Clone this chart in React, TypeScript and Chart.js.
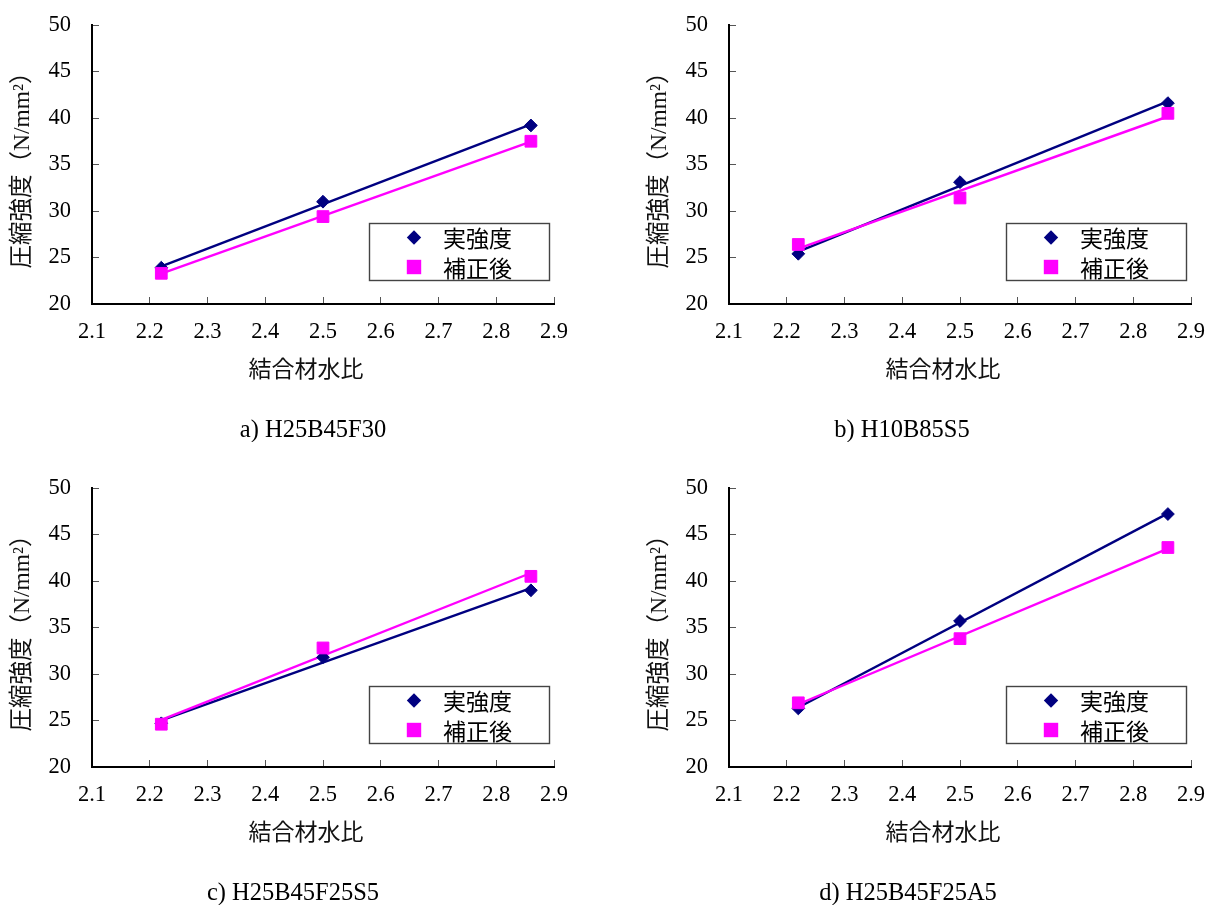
import React, { useEffect, useRef } from 'react';
import { Chart, registerables } from 'chart.js';

Chart.register(...registerables);

// ---- data ----
const X_TICKS = [2.1, 2.2, 2.3, 2.4, 2.5, 2.6, 2.7, 2.8, 2.9];
const Y_TICKS = [20, 25, 30, 35, 40, 45, 50];
const BINDER_WATER_RATIO = [2.22, 2.5, 2.86];
const SERIES_NAMES = ['実強度', '補正後'];

const REAL_A = [23.9, 31.0, 39.2];
const CORR_A = [23.3, 29.4, 37.5];
const REAL_B = [25.4, 33.1, 41.6];
const CORR_B = [26.4, 31.4, 40.5];
const REAL_C = [24.7, 31.8, 39.0];
const CORR_C = [24.6, 32.8, 40.5];
const REAL_D = [26.3, 35.7, 47.2];
const CORR_D = [26.9, 33.8, 43.6];

const CAPTIONS = ['a) H25B45F30', 'b) H10B85S5', 'c) H25B45F25S5', 'd) H25B45F25A5'];
const X_TITLE = '結合材水比';
const Y_TITLE = '圧縮強度（N/mm²）';

// ---- styles ----
const NAVY = '#000080';
const MAGENTA = '#FF00FF';
const SERIF = "'Liberation Serif', 'Times New Roman', serif";
const MIXED = "'Liberation Serif', 'Noto Sans CJK JP', serif";
const CJK = "'Noto Sans CJK JP', sans-serif";
const W = 568;
const H = 442;

const toPoints = (ys: number[]) => BINDER_WATER_RATIO.map((x, i) => ({ x, y: ys[i] }));

// Excel-style linear trendline (least squares) through the plotted points
function trendLine(ys: number[]) {
  const xs = BINDER_WATER_RATIO;
  const n = xs.length;
  const mx = xs.reduce((a, b) => a + b, 0) / n;
  const my = ys.reduce((a, b) => a + b, 0) / n;
  let sxy = 0;
  let sxx = 0;
  for (let i = 0; i < n; i++) {
    sxy += (xs[i] - mx) * (ys[i] - my);
    sxx += (xs[i] - mx) * (xs[i] - mx);
  }
  const k = sxy / sxx;
  const b = my - k * mx;
  const x0 = Math.min(...xs);
  const x1 = Math.max(...xs);
  return [
    { x: x0, y: b + k * x0 },
    { x: x1, y: b + k * x1 },
  ];
}

type PanelProps = {
  real: number[];
  corr: number[];
  caption: string;
  captionX: number;
  left: number;
  top: number;
};

function Panel({ real, corr, caption, captionX, left, top }: PanelProps) {
  const ref = useRef<HTMLCanvasElement>(null);

  useEffect(() => {
    const canvas = ref.current;
    if (!canvas) return;

    const deco = {
      id: 'deco',
      afterDraw(chart: any) {
        const { ctx, chartArea } = chart;
        ctx.save();
        // x-axis title
        ctx.fillStyle = '#111';
        ctx.textAlign = 'center';
        ctx.textBaseline = 'middle';
        ctx.font = `23px ${CJK}`;
        ctx.fillText(X_TITLE, chartArea.left + 214, chartArea.bottom + 64);
        // caption
        ctx.fillStyle = '#000';
        ctx.font = `24.5px ${SERIF}`;
        ctx.fillText(caption, captionX, 431);

        // legend box
        const bx = chartArea.left + 277;
        const by = chartArea.top + 198;
        const bw = 180;
        const bh = 57;
        ctx.fillStyle = '#fff';
        ctx.fillRect(bx, by, bw, bh);
        ctx.strokeStyle = '#444';
        ctx.lineWidth = 1.4;
        ctx.strokeRect(bx + 0.5, by + 0.5, bw, bh);

        const mx = bx + 45;
        const y1 = by + 14.5;
        const y2 = by + 44;
        // diamond
        ctx.fillStyle = NAVY;
        ctx.beginPath();
        ctx.moveTo(mx, y1 - 7.2);
        ctx.lineTo(mx + 7.2, y1);
        ctx.lineTo(mx, y1 + 7.2);
        ctx.lineTo(mx - 7.2, y1);
        ctx.closePath();
        ctx.fill();
        // square
        ctx.fillStyle = MAGENTA;
        ctx.fillRect(mx - 7.2, y2 - 7.2, 14.4, 14.4);

        ctx.fillStyle = '#000';
        ctx.textAlign = 'left';
        ctx.font = `23px ${CJK}`;
        ctx.fillText(SERIES_NAMES[0], bx + 74, y1 + 1);
        ctx.fillText(SERIES_NAMES[1], bx + 74, y2 + 1);
        ctx.restore();
      },
    };

    const axisCommon = {
      grid: {
        drawOnChartArea: false,
        drawTicks: true,
        tickLength: -7,
        color: '#555',
        lineWidth: 1,
      },
      border: { display: true, color: '#000', width: 2 },
    };

    const chart = new Chart(canvas, {
      type: 'scatter',
      data: {
        datasets: [
          {
            label: SERIES_NAMES[1],
            data: toPoints(corr),
            pointStyle: 'rect',
            pointRadius: 8.3,
            pointHoverRadius: 8.3,
            backgroundColor: MAGENTA,
            borderColor: MAGENTA,
            borderWidth: 1,
            showLine: false,
            order: 0,
          },
          {
            label: SERIES_NAMES[0],
            data: toPoints(real),
            pointStyle: 'rectRot',
            pointRadius: 6.4,
            pointHoverRadius: 6.4,
            backgroundColor: NAVY,
            borderColor: NAVY,
            borderWidth: 1,
            showLine: false,
            order: 1,
          },
          {
            label: SERIES_NAMES[1] + ' trend',
            data: trendLine(corr),
            showLine: true,
            borderColor: MAGENTA,
            borderWidth: 2.4,
            pointRadius: 0,
            fill: false,
            order: 2,
          },
          {
            label: SERIES_NAMES[0] + ' trend',
            data: trendLine(real),
            showLine: true,
            borderColor: NAVY,
            borderWidth: 2.4,
            pointRadius: 0,
            fill: false,
            order: 3,
          },
        ],
      },
      options: {
        responsive: false,
        maintainAspectRatio: false,
        animation: false,
        devicePixelRatio: 1,
        layout: { padding: { left: 0, right: W - 554, top: 25, bottom: 0 } },
        plugins: {
          legend: { display: false },
          tooltip: { enabled: false },
          title: { display: false },
        },
        scales: {
          x: {
            type: 'linear',
            position: 'bottom',
            min: 2.1,
            max: 2.9,
            afterBuildTicks: (s: any) => {
              s.ticks = X_TICKS.map((v) => ({ value: v }));
            },
            afterFit: (s: any) => {
              s.height = H - 304;
              s.paddingLeft = 0;
              s.paddingRight = 0;
            },
            ticks: {
              autoSkip: false,
              maxRotation: 0,
              padding: 22,
              color: '#000',
              font: { family: SERIF, size: 22.5 },
              callback: (v: any) => Number(v).toFixed(1),
            },
            ...axisCommon,
          },
          y: {
            type: 'linear',
            position: 'left',
            min: 20,
            max: 50,
            afterBuildTicks: (s: any) => {
              s.ticks = Y_TICKS.map((v) => ({ value: v }));
            },
            afterFit: (s: any) => {
              s.width = 92;
              s.paddingTop = 0;
              s.paddingBottom = 0;
            },
            ticks: {
              autoSkip: false,
              padding: 28,
              color: '#000',
              font: { family: SERIF, size: 22.5 },
              callback: (v: any) => String(v),
            },
            title: {
              display: true,
              text: Y_TITLE,
              color: '#111',
              font: { family: MIXED, size: 23.5 },
              padding: { top: 8.6, bottom: 0 },
            },
            ...axisCommon,
          },
        },
      },
      plugins: [deco],
    } as any);

    return () => chart.destroy();
  }, [real, corr, caption, captionX]);

  return (
    <canvas
      ref={ref}
      width={W}
      height={H}
      style={{ position: 'absolute', left, top, width: W, height: H, display: 'block' }}
    />
  );
}

export default function App() {
  return (
    <div>
      <Panel real={REAL_A} corr={CORR_A} caption={CAPTIONS[0]} captionX={313} left={0} top={0} />
      <Panel real={REAL_B} corr={CORR_B} caption={CAPTIONS[1]} captionX={265} left={637} top={0} />
      <Panel real={REAL_C} corr={CORR_C} caption={CAPTIONS[2]} captionX={293} left={0} top={463} />
      <Panel real={REAL_D} corr={CORR_D} caption={CAPTIONS[3]} captionX={271} left={637} top={463} />
    </div>
  );
}
